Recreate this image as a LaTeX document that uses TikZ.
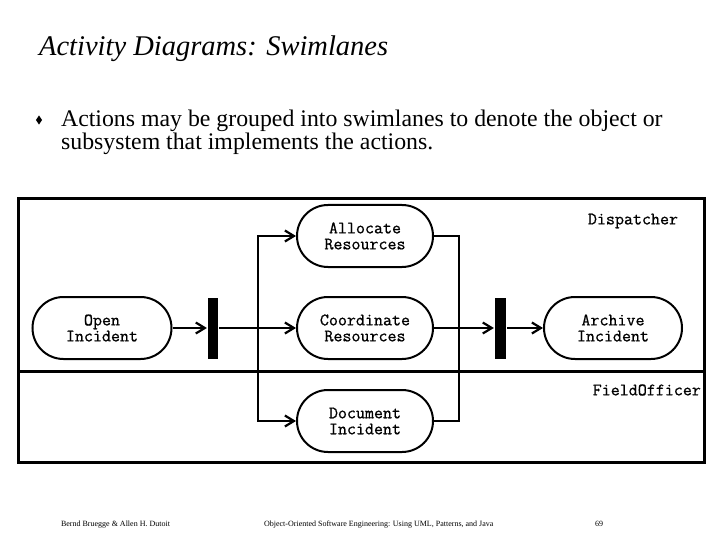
\documentclass[tikz,border=0pt]{standalone}
\usepackage{fontspec}
\setmainfont{Liberation Serif}
\newfontfamily\boxfont[FakeBold=0.8]{Latin Modern Mono}
\usetikzlibrary{arrows.meta,positioning,shapes.misc,shapes.geometric}
\tikzset{
  >={Straight Barb[length=9pt,width=11pt]},
  every picture/.append style={line width=2.2pt},
}
\tikzset{
  action/.style={draw, rounded rectangle, line width=2pt, align=center, inner sep=0pt,
                 minimum width=136pt, minimum height=62pt, font=\fontsize{17.5}{16}\boxfont},
  flow/.style={->, line width=2.2pt},
  lane/.style={draw, line width=3.2pt}
}
\begin{document}
\begin{tikzpicture}[
  x=1pt, y=-1pt,
  syncbar/.style={fill=black, draw=none, inner sep=0pt, minimum width=10pt, minimum height=61pt},
  lanename/.style={font=\fontsize{17.5}{16}\boxfont, inner sep=0pt},
  footer/.style={font=\fontsize{8}{9}\selectfont, inner sep=0pt, anchor=base west}
]
\useasboundingbox (0,0) rectangle (720,540);

% Slide heading and bullet
\node[anchor=base west, inner sep=0pt, font=\fontsize{28.5}{30}\selectfont\itshape] (title) at (38,56)
  {Activity Diagrams: Swimlanes};
\node[diamond, fill=black, inner sep=0pt, minimum width=7pt, minimum height=10pt] (dot) at (39,120) {};
\node[anchor=base west, inner sep=0pt, align=left, font=\fontsize{23.8}{23.5}\selectfont] (intro) at (60,150)
  {Actions may be grouped into swimlanes to denote the object or\\
   subsystem that implements the actions.};

% Swimlanes
\node[lane, minimum width=686pt, minimum height=264pt, anchor=north west] (frame) at (17,197) {};
\coordinate (divw) at (17,371);
\coordinate (dive) at (703,371);
\draw[line width=3pt] (divw) -- (dive);
\node[lanename] (dispatcher) at (633,221) {Dispatcher};
\node[lanename, anchor=east] (fieldofficer) at (702,390) {FieldOfficer};

% Actions
\node[action, minimum width=139pt] (open) at (102,328) {Open\\Incident};
\node[action] (alloc) at (365,236) {Allocate\\Resources};
\node[action] (coord) at (365,328) {Coordinate\\Resources};
\node[action] (doc) at (365,421) {Document\\Incident};
\node[action, minimum width=138pt] (archive) at (613,328) {Archive\\Incident};

% Fork and join bars
\node[syncbar] (fork) at (213,328) {};
\node[syncbar, minimum width=11pt] (join) at (500.5,328) {};

% Control flow
\coordinate (split) at (258,328);
\coordinate (merge) at (459,328);
\draw[flow] (open.east) -- (fork.west);
\draw[flow] (fork.east) -- (coord.west);
\draw[flow] (split) |- (alloc.west);
\draw[flow] (split) |- (doc.west);
\draw (alloc.east) -| (merge);
\draw (doc.east) -| (merge);
\draw[flow] (coord.east) -- (join.west);
\draw[flow] (join.east) -- (archive.west);

% Footer
\node[footer] (authors) at (60,526) {Bernd Bruegge \& Allen H. Dutoit};
\node[footer] (book) at (263,526) {Object-Oriented Software Engineering: Using UML, Patterns, and Java};
\node[footer] (page) at (594,526) {69};

\end{tikzpicture}
\end{document}
